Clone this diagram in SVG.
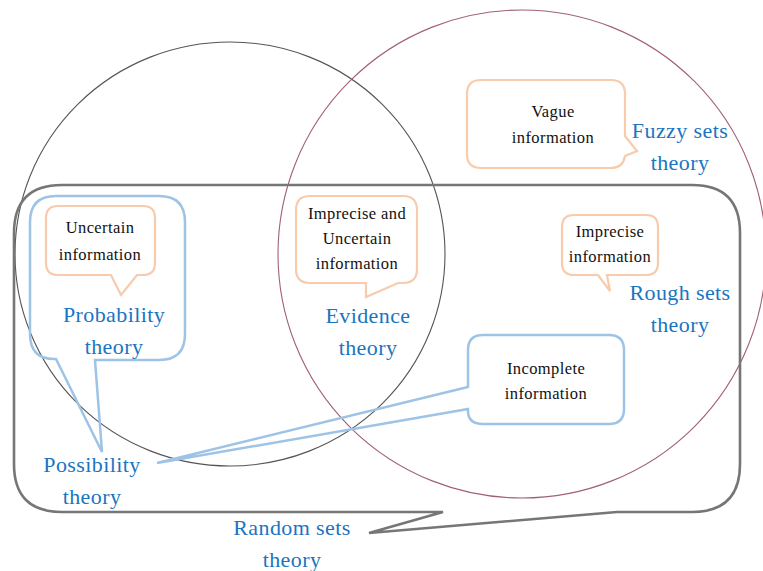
<svg xmlns="http://www.w3.org/2000/svg" width="763" height="571" viewBox="0 0 763 571">
<style>
.circ{fill:none;stroke-width:1.1}
.blue{fill:none;stroke:#9dc3e6;stroke-width:2.5;stroke-linejoin:miter}
.orange{fill:none;stroke:#f8cbad;stroke-width:2.2}
.gray{fill:none;stroke:#767676;stroke-width:2.6}
.t{font-family:"Liberation Serif",serif;font-size:16.5px;letter-spacing:0.4px;fill:#111;text-anchor:middle}
.b{font-family:"Liberation Serif",serif;font-size:22px;letter-spacing:0.4px;fill:#1a75c1;text-anchor:middle}
</style>
<rect width="763" height="571" fill="#fff"/>
<g id="circles">
<ellipse class="circ" cx="230" cy="254" rx="215" ry="212" stroke="#555"/>
<circle class="circ" cx="522" cy="254" r="244" stroke="#a0607a"/>
</g>
<g id="random-sets">
<path class="gray" d="M 62,185 H 692 Q 740,185 740,233 V 464 Q 740,512 692,512 H 617 L 369,533 L 443,512 H 62 Q 14,512 14,464 V 233 Q 14,185 62,185 Z"/>
<text class="b" x="292" y="535">Random sets</text>
<text class="b" x="292" y="567">theory</text>
</g>
<g id="probability">
<path class="blue" d="M 56,196 H 159 Q 185,196 185,222 V 334 Q 185,360 159,360 H 95 L 102,452 L 56,359 Q 30,360 30,334 V 222 Q 30,196 56,196 Z"/>
<text class="b" x="114" y="322">Probability</text>
<text class="b" x="114" y="354">theory</text>
</g>
<g id="uncertain">
<path class="orange" d="M 58,206 H 143 Q 155,206 155,218 V 263 Q 155,275 143,275 H 137 L 121,295 L 111,275 H 58 Q 46,275 46,263 V 218 Q 46,206 58,206 Z"/>
<text class="t" x="100" y="233">Uncertain</text>
<text class="t" x="100" y="260">information</text>
</g>
<g id="imprecise-uncertain">
<path class="orange" d="M 310,196 H 403 Q 417,196 417,210 V 269 Q 417,283 403,283 H 398 L 366,297 V 283 H 310 Q 296,283 296,269 V 210 Q 296,196 310,196 Z"/>
<text class="t" x="357" y="219">Imprecise and</text>
<text class="t" x="357" y="244">Uncertain</text>
<text class="t" x="357" y="269">information</text>
</g>
<g id="evidence">
<text class="b" x="368" y="323">Evidence</text>
<text class="b" x="368" y="355">theory</text>
</g>
<g id="vague">
<path class="orange" d="M 481,80 H 611 Q 625,80 625,94 V 136 L 637,151 L 625,156 Q 623,168 611,168 H 481 Q 467,168 467,154 V 94 Q 467,80 481,80 Z"/>
<text class="t" x="553" y="117">Vague</text>
<text class="t" x="553" y="143">information</text>
</g>
<g id="fuzzy">
<text class="b" x="680" y="138">Fuzzy sets</text>
<text class="b" x="680" y="170">theory</text>
</g>
<g id="imprecise">
<path class="orange" d="M 574,215 H 646 Q 658,215 658,227 V 263 Q 658,275 646,275 H 607 L 610,291 L 598,275 H 574 Q 562,275 562,263 V 227 Q 562,215 574,215 Z"/>
<text class="t" x="610" y="237">Imprecise</text>
<text class="t" x="610" y="262">information</text>
</g>
<g id="rough">
<text class="b" x="680" y="300">Rough sets</text>
<text class="b" x="680" y="332">theory</text>
</g>
<g id="incomplete">
<path class="blue" d="M 483,335 H 609 Q 624,335 624,350 V 409 Q 624,424 609,424 H 483 Q 468,424 468,411 V 409 L 157,463 L 468,387 V 350 Q 468,335 483,335 Z"/>
<text class="t" x="546" y="374">Incomplete</text>
<text class="t" x="546" y="399">information</text>
</g>
<g id="possibility">
<text class="b" x="92" y="472">Possibility</text>
<text class="b" x="92" y="504">theory</text>
</g>
<g id="connectors"></g>
</svg>
